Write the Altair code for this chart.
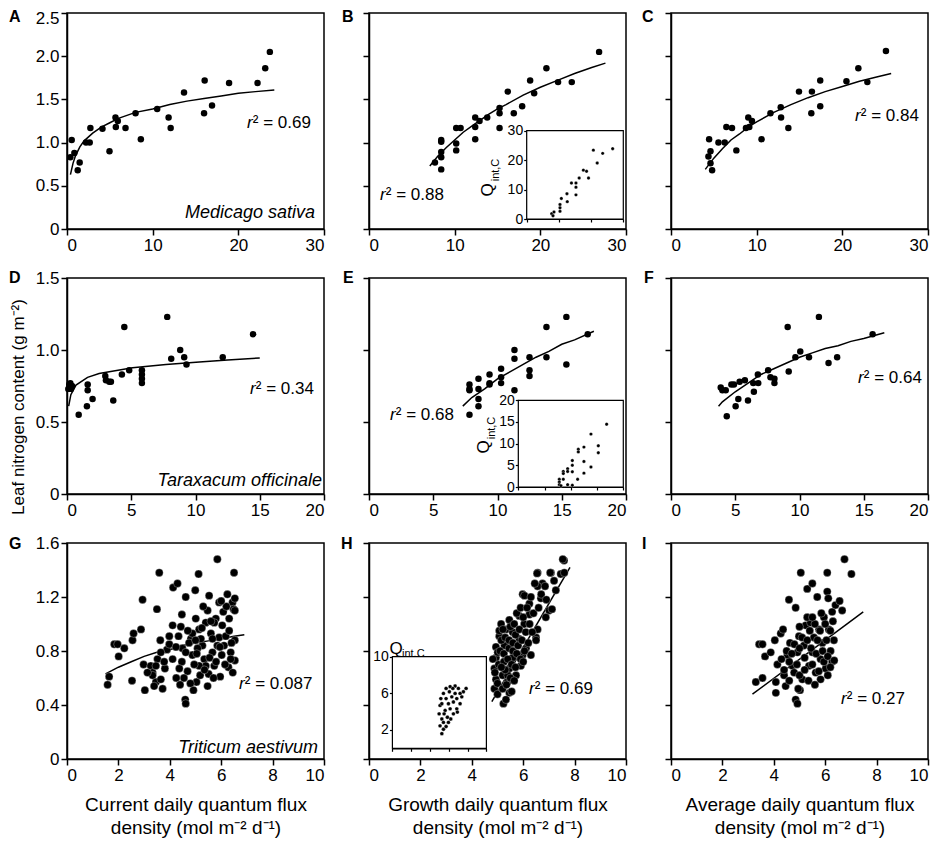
import altair as alt
import pandas as pd

FONT = "Liberation Sans"

# ---------------- data ----------------
a_pts = [(0.39,0.83),(0.55,1.03),(0.86,0.88),(1.25,0.68),(1.48,0.77),(2.22,1.0),(2.65,1.0),(2.73,1.17),
         (4.14,1.16),(4.96,0.9),(5.66,1.29),(5.70,1.18),(5.93,1.25),(6.83,1.17),(8.0,1.34),(8.62,1.04),
         (10.53,1.39),(11.86,1.29),(12.1,1.17),(13.66,1.58),(16.0,1.34),(16.07,1.72),(16.93,1.43),
         (18.92,1.69),(22.24,1.69),(23.14,1.86),(23.68,2.05)]
a_fit_x = [0.4,0.7,1,1.5,2,3,4,5,6,8,10,12,14,16,18,20,22,24.2]
a_fit_y = [0.63,0.76,0.85,0.95,1.02,1.11,1.18,1.23,1.28,1.35,1.39,1.44,1.48,1.51,1.54,1.57,1.59,1.61]

b_pts = [(7.70,0.77),(8.43,1.03),(8.43,1.01),(8.43,0.89),(8.43,0.83),(8.43,0.69),(10.18,1.17),(10.18,0.99),
         (10.18,0.91),(10.69,1.17),(12.4,1.29),(12.4,1.18),(12.4,1.04),(12.9,1.25),(13.8,1.29),(15.24,1.40),
         (15.24,1.34),(15.24,1.17),(16.9,1.34),(16.2,1.59),(17.88,1.42),(18.81,1.72),(19.28,1.57),
         (20.71,1.86),(22.07,1.70),(23.67,1.70),(26.86,2.05)]
b_fit_x = [7.1,8,9,10,11,12,13,14,15,16,18,20,22,24,26,27.6]
b_fit_y = [0.73,0.84,0.94,1.03,1.12,1.19,1.26,1.33,1.39,1.44,1.55,1.64,1.72,1.80,1.87,1.92]
b_inset = [(7.76,1.8),(8.17,1.1),(8.48,2.4),(10.34,4.9),(10.34,3.8),(10.34,2.6),(10.76,7.0),(12.5,8.6),
           (12.6,5.9),(13.9,12.2),(15.3,12.2),(15.3,10.8),(15.3,8.2),(16.3,13.9),(17.6,16.6),(18.6,16.2),
           (19.2,13.9),(20.7,23.4),(21.9,19.0),(23.6,22.3),(26.7,23.9)]

c_pts = [(4.45,1.04),(4.61,0.90),(4.37,0.84),(4.61,0.76),(4.80,0.68),(5.54,1.0),(6.27,1.0),(6.46,1.18),
         (7.12,1.17),(7.63,0.91),(8.75,1.17),(9.02,1.29),(9.14,1.18),(9.45,1.25),(10.57,1.04),(11.61,1.34),
         (12.81,1.41),(12.85,1.29),(13.7,1.17),(14.94,1.59),(16.38,1.34),(16.45,1.59),(17.42,1.72),
         (17.42,1.42),(20.48,1.71),(21.87,1.86),(22.92,1.70),(25.09,2.06)]
c_fit_x = [4,5,6,7,8,9,10,12,14,16,18,20,22,24,25.7]
c_fit_y = [0.69,0.82,0.93,1.03,1.10,1.18,1.24,1.35,1.44,1.52,1.59,1.65,1.71,1.76,1.80]

d_pts = [(0.10,0.73),(0.18,0.76),(0.26,0.77),(0.31,0.73),(0.23,0.75),(0.39,0.75),(0.91,0.55),(1.55,0.61),
         (1.61,0.76),(1.61,0.72),(1.99,0.66),(2.98,0.82),(3.03,0.79),(3.29,0.78),(3.42,0.78),(3.60,0.65),
         (4.27,0.83),(4.46,1.16),(4.84,0.86),(5.83,0.86),(5.83,0.83),(5.83,0.80),(5.83,0.77),(7.80,1.23),
         (8.11,0.94),(8.81,1.0),(9.12,0.95),(9.30,0.90),(12.12,0.95),(14.48,1.11)]
d_fit_x = [0.13,0.3,0.7,1.6,2.5,5.1,7.7,10.3,12.5,15]
d_fit_y = [0.61,0.69,0.756,0.81,0.837,0.876,0.90,0.917,0.93,0.945]

e_pts = [(7.82,0.55),(7.82,0.76),(7.82,0.73),(7.82,0.72),(8.52,0.80),(8.52,0.73),(8.52,0.66),(8.52,0.61),
         (9.38,0.83),(9.38,0.77),(9.38,0.76),(10.28,0.87),(10.28,0.81),(10.28,0.77),(11.32,1.0),(11.32,0.94),
         (11.32,0.72),(12.49,0.95),(12.49,0.86),(12.49,0.82),(13.81,1.16),(13.81,0.95),(15.36,1.23),
         (15.36,0.90),(17.02,1.11)]
e_fit_x = [7.3,8,9,10,11,12,13,14,15,16,17.5]
e_fit_y = [0.61,0.67,0.73,0.80,0.85,0.90,0.95,0.99,1.04,1.07,1.13]
e_inset = [(7.81,1.77),(7.81,1.15),(7.81,0.54),(8.13,0.3),(8.57,3.6),(8.57,3.1),(8.57,1.8),(9.4,0.54),
           (9.4,4.2),(9.4,3.6),(10.29,6.1),(10.29,5.0),(10.29,3.5),(10.29,0.4),(11.3,1.77),(11.43,8.7),
           (11.43,8.1),(12.5,9.2),(12.5,5.9),(12.5,3.2),(13.84,12.2),(13.84,4.6),(15.24,9.5),(15.24,7.9),
           (16.83,14.5)]

f_pts = [(3.87,0.74),(4.0,0.72),(4.26,0.72),(4.34,0.54),(4.70,0.76),(4.90,0.76),(5.03,0.61),(5.24,0.66),
         (5.34,0.78),(5.75,0.79),(5.99,0.65),(6.40,0.77),(6.45,0.71),(6.76,0.83),(6.79,0.77),(7.56,0.86),
         (7.74,0.81),(8.05,0.80),(8.05,0.77),(9.08,1.16),(9.16,0.85),(9.68,0.95),(10.06,0.99),(10.74,0.95),
         (11.51,1.23),(12.26,0.91),(12.93,0.95),(15.69,1.11)]
f_fit_x = [3.7,4,5,6,7,8,9,10,11,12,13,14,15,16.6]
f_fit_y = [0.61,0.64,0.71,0.77,0.83,0.87,0.91,0.95,0.98,1.01,1.03,1.06,1.08,1.12]

g_pts = [(1.58,0.55),(1.64,0.61),(1.84,0.85),(1.97,0.85),(2.01,0.76),(2.23,0.82),(2.53,0.58),(2.55,0.88),
         (2.59,0.93),(2.88,0.96),(2.94,1.18),(2.98,0.70),(3.03,0.51),(3.26,0.69),(3.33,0.64),(3.46,0.57),
         (3.50,1.11),(3.52,0.74),(3.59,1.38),(3.63,0.88),(3.65,0.59),(3.72,0.52),(3.81,0.67),(3.89,0.81),
         (3.98,0.85),(4.13,1.27),(4.30,1.30),(4.34,0.91),(4.43,0.98),(4.47,0.72),(4.49,0.82),(4.62,1.20),
         (4.60,0.44),(4.62,0.41),(4.69,0.65),(4.82,0.89),(4.88,0.77),(4.92,0.51),(4.99,1.25),(5.01,1.04),
         (5.04,0.57),(5.12,1.37),(5.14,0.96),(5.18,0.62),(5.27,0.84),(5.34,0.74),(5.40,1.01),(5.47,1.10),
         (5.51,0.63),(5.60,0.93),(5.66,0.79),(5.73,0.69),(5.79,1.04),(5.85,1.48),(5.92,1.16),(5.92,0.90),
         (5.96,0.61),(6.02,0.77),(6.08,1.09),(6.18,0.91),(6.24,1.22),(6.28,0.68),(6.31,1.04),(6.37,0.79),
         (6.44,1.16),(6.48,1.11),(6.50,1.38),(6.53,1.19),(6.53,0.88),(6.53,0.73),(6.53,1.10),
         (4.11,0.74),(4.24,0.83),(4.37,0.67),(4.62,0.79),(4.75,0.86),(4.88,0.93),(5.08,0.82),(5.21,0.89),
         (5.40,0.69),(5.66,0.89),(5.73,1.01),(5.85,0.84),(6.04,0.99),(6.11,0.84),(6.31,0.95),(6.37,0.74),
         (4.11,0.99),(3.98,0.91),(4.47,1.07),(5.30,1.13),(5.53,1.21),(5.47,0.54),(5.14,0.69),(3.65,0.79),
         (3.78,0.72),(3.33,0.62),(3.13,0.64),(3.46,0.69),(3.39,0.54),(4.55,0.60),(4.70,0.95),(4.95,0.70),
         (5.05,0.78),(5.25,0.97),(5.35,0.66),(5.55,0.75),(5.60,1.02),(5.80,0.72),(5.95,0.83),(6.15,0.70),
         (6.20,1.13),(6.40,0.86),(6.45,0.64),(5.00,0.88),(4.80,0.56),(5.70,0.60),(6.00,1.17),(4.25,0.60),
         (4.40,0.55)]
g_fit_x = [1.5,2,2.5,3,3.5,4,4.5,5,5.5,6,6.5,6.9]
g_fit_y = [0.63,0.68,0.72,0.76,0.79,0.81,0.84,0.86,0.875,0.89,0.91,0.92]

h_pts = [(7.59,1.47),(7.46,1.37),(7.08,1.38),(6.56,1.38),(6.75,1.30),(6.56,1.28),(7.27,1.25),(5.98,1.22),
         (6.69,1.19),(6.24,1.15),(7.01,1.10),(6.88,1.05),(6.24,1.07),(5.85,1.06),(6.04,1.0),(5.46,1.03),
         (6.56,0.96),(5.33,0.96),(5.59,0.94),(5.07,0.91),(6.50,0.90),(5.85,0.89),(5.27,0.84),(6.11,0.82),
         (4.94,0.75),(5.59,0.75),(5.98,0.77),(4.88,0.67),(5.46,0.67),(5.91,0.69),(4.94,0.59),(5.39,0.57),
         (5.72,0.62),(5.23,0.41),(4.88,0.52),(4.90,0.64),(4.82,0.74),(4.94,0.83),(5.07,0.95),(5.14,1.0),
         (6.5,0.88),(6.3,0.77),(5.46,0.49),(5.33,0.44),(6.54,1.375),(7.05,1.38),(7.54,1.48),(7.6,1.38),
         (7.12,1.11),(6.05,1.21),(5.21,0.96),(5.01,0.79),
         (5.0,0.48),(5.0,0.56),(5.05,0.70),(5.1,0.80),(5.15,0.88),(5.2,0.52),(5.2,0.62),(5.25,0.72),
         (5.25,0.78),(5.3,0.90),(5.35,0.55),(5.4,0.62),(5.4,0.74),(5.45,0.82),(5.45,0.88),(5.5,0.98),
         (5.5,0.60),(5.55,0.70),(5.6,0.80),(5.6,0.86),(5.65,1.0),(5.7,0.68),(5.7,0.92),(5.75,0.78),
         (5.75,1.08),(5.8,0.84),(5.85,0.96),(5.9,0.74),(5.9,1.12),(5.95,0.88),(6.0,1.05),(6.05,0.80),
         (6.1,0.94),(6.15,1.12),(6.2,0.86),(6.25,1.0),(6.3,1.20),(6.35,0.94),(6.4,1.08),(6.45,1.30),
         (6.6,1.12),(6.7,1.22),(6.85,1.28),(6.9,1.18),(7.2,1.32),(5.3,0.66),(5.55,0.50),(5.15,0.68),
         (5.65,0.58),(6.0,0.72)]
h_fit_x = [4.78,7.82]
h_fit_y = [0.425,1.42]
h_inset = [(5.26,1.6),(5.43,2.08),(5.71,2.38),(5.96,2.83),(6.21,3.2),(6.49,3.76),(6.85,4.31),(7.2,4.87),
           (7.38,5.62),(7.84,6.54),(7.55,6.17),(5.07,4.68),(4.97,3.76),(5.15,5.43),(5.43,5.99),(5.71,6.54),
           (6.14,6.73),(6.67,6.8),(7.02,6.54),(5.26,3.2),(5.61,4.13),(5.96,4.87),(6.32,5.62),(6.67,5.99),
           (5.43,2.83),(5.85,3.39),(6.14,4.31),(5.26,4.87),(6.49,5.06),(6.85,5.43),(7.2,5.99),(5.71,5.43),
           (6.06,6.17),(6.43,6.54),(5.07,2.45),(5.5,3.76),(6.91,3.95)]

i_pts = [(3.30,0.57),(3.43,0.85),(3.56,0.85),(3.56,0.60),(3.66,0.76),(3.88,0.79),(4.04,0.88),(4.08,0.49),
         (4.08,0.57),(4.14,0.70),(4.27,0.93),(4.36,0.96),(4.40,0.62),(4.46,0.54),(4.53,0.77),(4.59,1.18),
         (4.63,0.86),(4.72,0.69),(4.79,0.64),(4.85,1.12),(4.85,0.44),(4.92,0.41),(4.92,0.79),(4.98,0.91),
         (5.02,0.51),(5.05,1.38),(5.11,0.59),(5.17,0.84),(5.24,0.99),(5.30,1.26),(5.37,0.69),(5.43,1.01),
         (5.50,1.30),(5.50,0.79),(5.56,0.90),(5.63,0.64),(5.69,1.20),(5.76,0.96),(5.82,0.59),(5.82,0.74),
         (5.89,0.86),(5.95,1.05),(6.02,0.67),(6.08,1.38),(6.08,1.24),(6.12,1.19),(6.14,0.96),(6.21,0.80),
         (6.27,0.72),(6.27,1.09),(6.34,0.88),(6.40,1.14),(6.56,1.17),(6.66,1.10),(6.75,1.48),(7.02,1.37),
         (4.5,0.80),(4.6,0.72),(4.7,0.78),(4.8,0.85),(4.9,0.70),(5.0,0.82),(5.0,0.62),(5.1,0.90),
         (5.2,0.75),(5.2,0.66),(5.3,0.88),(5.35,0.58),(5.4,0.95),(5.45,0.82),(5.5,0.70),(5.6,1.00),
         (5.65,0.78),(5.7,0.88),(5.75,0.65),(5.8,0.95),(5.9,0.80),(5.95,0.72),(6.0,1.00),(6.05,0.88),
         (6.1,0.76),(5.3,1.05),(5.5,1.05),(5.0,0.98),(4.4,0.66),(4.6,0.58),(4.3,0.74),(4.95,0.52),
         (5.6,0.55),(6.2,0.95),(5.85,1.08),(6.3,1.02),(6.35,0.73),(6.1,0.62),(6.2,0.68)]
i_fit_x = [3.17,7.48]
i_fit_y = [0.48,1.09]

row_x_domains = [[0, 30], [0, 20], [0, 10]]
row_x_ticks = [[0, 10, 20, 30], [0, 5, 10, 15, 20], [0, 2, 4, 6, 8, 10]]
row_y_domains = [[0, 2.5], [0, 1.5], [0, 1.6]]
row_y_ticks = [[0, 0.5, 1.0, 1.5, 2.0, 2.5], [0, 0.5, 1.0, 1.5], [0, 0.4, 0.8, 1.2, 1.6]]
x_titles = [["Current daily quantum flux", "density (mol m\u207b\u00b2 d\u207b\u00b9)"],
            ["Growth daily quantum flux", "density (mol m\u207b\u00b2 d\u207b\u00b9)"],
            ["Average daily quantum flux", "density (mol m\u207b\u00b2 d\u207b\u00b9)"]]
y_title = "Leaf nitrogen content (g m\u207b\u00b2)"

W, H = 257, 216
ONE = pd.DataFrame({"k": [0]})


def txt(text, x, y, size=17, style="normal", weight="normal", align="left", angle=0):
    return alt.Chart(ONE).mark_text(
        text=text, font=FONT, fontSize=size, fontStyle=style, fontWeight=weight,
        align=align, baseline="middle", angle=angle, color="black"
    ).encode(x=alt.value(x), y=alt.value(y))


def r2(x, y, val, size=17):
    return [txt("r", x, y, size, style="italic"), txt("\u00b2 = " + val, x + size * 0.34, y, size)]


def inset(pts, xdom, xticks, ydom, yticks, x0, x1, y0, y1, size):
    xs = alt.Scale(domain=xdom, range=[x0, x1], nice=False, zero=False)
    ys = alt.Scale(domain=ydom, range=[y1, y0], nice=False, zero=False)
    xa = alt.Axis(orient="bottom", offset=-(H - y1), values=xticks, labels=False, tickSize=3,
                  tickWidth=1.2, domainWidth=1.2, title=None, grid=False)
    ya = alt.Axis(orient="left", offset=-x0, values=yticks, tickSize=3, tickWidth=1.2, domainWidth=1.2,
                  labelFontSize=14, labelPadding=1, title=None, grid=False)
    box = pd.DataFrame({"x0": [xdom[0]], "x1": [xdom[1]], "y0": [ydom[0]], "y1": [ydom[1]]})
    rect = alt.Chart(box).mark_rect(fill="white", stroke="black", strokeWidth=1.2).encode(
        x=alt.X("x0:Q", scale=xs, axis=xa), x2="x1:Q",
        y=alt.Y("y0:Q", scale=ys, axis=ya), y2="y1:Q")
    df = pd.DataFrame(pts, columns=["x", "y"])
    dots = alt.Chart(df).mark_circle(size=size, fill="black", stroke="white", strokeWidth=0.3,
                                     opacity=1).encode(
        x=alt.X("x:Q", scale=xs, axis=xa), y=alt.Y("y:Q", scale=ys, axis=ya))
    return alt.layer(rect, dots)


def panel(row, col, pts, fx, fy, size, stroke_w, texts, ins=None):
    xdom, xt = row_x_domains[row], row_x_ticks[row]
    ydom, yt = row_y_domains[row], row_y_ticks[row]
    xaxis = alt.Axis(values=xt, title=x_titles[col] if row == 2 else None,
                     titleFontSize=19, titleFontWeight="normal", titlePadding=12, titleLineHeight=23)
    yargs = dict(values=yt, labels=(col == 0), title=None,
                 labelExpr="datum.value == 0 ? '0' : format(datum.value, '.1f')")
    if row == 0:
        yargs["labelOffset"] = {"condition": {"test": "datum.value == 2.5", "value": 5}, "value": 0}
    yaxis = alt.Axis(**yargs)
    xs = alt.Scale(domain=xdom, nice=False, zero=False)
    ys = alt.Scale(domain=ydom, nice=False, zero=False)
    fit = alt.Chart(pd.DataFrame({"x": fx, "y": fy})).mark_line(color="black", strokeWidth=1.5).encode(
        x=alt.X("x:Q", scale=xs, axis=xaxis), y=alt.Y("y:Q", scale=ys, axis=yaxis))
    dots = alt.Chart(pd.DataFrame(pts, columns=["x", "y"])).mark_circle(
        size=size, fill="black", stroke="white", strokeWidth=stroke_w, opacity=1).encode(
        x=alt.X("x:Q", scale=xs, axis=xaxis), y=alt.Y("y:Q", scale=ys, axis=yaxis))
    main = alt.layer(fit, dots, *texts)
    if ins is not None:
        ch = alt.layer(main, ins).resolve_scale(x="independent", y="independent")
    else:
        ch = main
    return ch.properties(width=W, height=H)


pA = panel(0, 0, a_pts, a_fit_x, a_fit_y, 42, 0,
           [txt("A", -58, 4, 16, weight="bold"), *r2(180, 110, "0.69"),
            txt("Medicago sativa", 248, 200, 18, style="italic", align="right")])
pB = panel(0, 1, b_pts, b_fit_x, b_fit_y, 42, 0,
           [txt("B", -27, 4, 16, weight="bold"), *r2(11, 182, "0.88"),
            *r2(163, 131, "0.93", 15),
            txt("Q", 119, 177, 17, align="center", angle=270),
            txt("int,C", 127, 157, 11, align="center", angle=270)],
           inset(b_inset, [0, 30], [0, 10, 20, 30], [0, 30], [0, 10, 20, 30], 157.7, 254.3, 117.7, 206, 12))
pC = panel(0, 2, c_pts, c_fit_x, c_fit_y, 42, 0,
           [txt("C", -29, 4, 16, weight="bold"), *r2(184, 103, "0.84")])
pD = panel(1, 0, d_pts, d_fit_x, d_fit_y, 42, 0,
           [txt("D", -58, 0, 16, weight="bold"), *r2(183, 111, "0.34"),
            txt("Taraxacum officinale", 255, 203, 18, style="italic", align="right"),
            txt(y_title, -48, 129, 17, align="center", angle=270)])
pE = panel(1, 1, e_pts, e_fit_x, e_fit_y, 42, 0,
           [txt("E", -26, 0, 16, weight="bold"), *r2(21, 137, "0.68"),
            *r2(192, 133, "0.66", 15),
            txt("Q", 115, 169, 17, align="center", angle=270),
            txt("int,C", 123, 150, 11, align="center", angle=270)],
           inset(e_inset, [0, 20], [0, 5, 10, 15, 20], [0, 20], [0, 5, 10, 15, 20], 149.3, 254.3, 122.3, 209, 12))
pF = panel(1, 2, f_pts, f_fit_x, f_fit_y, 42, 0,
           [txt("F", -27, 0, 16, weight="bold"), *r2(187, 100, "0.64")])
pG = panel(2, 0, g_pts, g_fit_x, g_fit_y, 62, 0.3,
           [txt("G", -58, 1, 16, weight="bold"), *r2(172, 141, "0.087"),
            txt("Triticum aestivum", 251, 205, 18, style="italic", align="right")])
pH = panel(2, 1, h_pts, h_fit_x, h_fit_y, 62, 0.3,
           [txt("H", -28, 1, 16, weight="bold"), *r2(160, 146, "0.69"),
            *r2(56, 127, "0.19", 15),
            txt("Q", 27, 106, 17, align="center"),
            txt("int,C", 33, 111, 11)],
           inset(h_inset, [0, 10], [0, 2, 4, 6, 8, 10], [0, 10], [2, 6, 10], 23.4, 117.4, 113.7, 205.3, 15))
pI = panel(2, 2, i_pts, i_fit_x, i_fit_y, 62, 0.3,
           [txt("I", -29, 1, 16, weight="bold"), *r2(170, 156, "0.27")])

chart = alt.concat(pA, pB, pC, pD, pE, pF, pG, pH, pI, columns=3,
                   spacing={"row": 49, "column": 45}, bounds="flush").properties(
    padding={"left": 0, "top": 0, "right": 0, "bottom": 0}, background="white"
).configure_view(stroke="black", strokeWidth=1.5).configure_axis(
    grid=False, domainColor="black", tickColor="black", labelColor="black", titleColor="black",
    domainWidth=1.5, tickWidth=1.5, tickSize=6, labelPadding=2, labelFont=FONT, titleFont=FONT,
    labelFontSize=17
)

chart.save("out.html", embed_options={"renderer": "svg", "actions": False})
